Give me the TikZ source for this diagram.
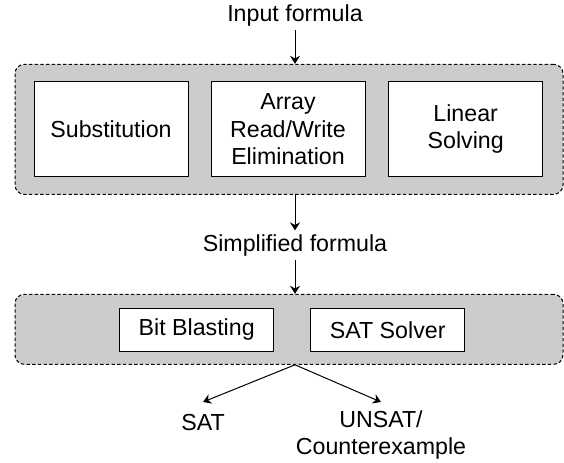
\documentclass[tikz,border=0pt]{standalone}
\usepackage{fontspec}
\setmainfont{Liberation Sans}
\usetikzlibrary{positioning, arrows.meta}
\definecolor{panelgray}{RGB}{204,204,204}

\begin{document}
\begin{tikzpicture}[
  x=0.75pt, y=-0.75pt,
  line width=0.75pt,
  every node/.style={font=\fontsize{17.4}{20.4}\selectfont, align=center},
  stage/.style={draw, dash pattern=on 2.5pt off 1.75pt, rounded corners=7pt, fill=panelgray, minimum width=411pt, inner sep=0pt},
  pass/.style={draw, fill=white, minimum width=115.5pt, inner sep=0pt},
  label/.style={inner sep=2.5pt},
  ->, >={Stealth[length=6pt, width=7.5pt, inset=2pt]}
]
\useasboundingbox (0,0) rectangle (564,462);

% Preprocessing stage
\node[stage, minimum height=97.5pt] (preproc) at (289,129.3) {};
\node[pass, minimum height=71.25pt] (subst) at (111,129.3) {Substitution};
\node[pass, minimum height=71.25pt, right=16.5pt of subst] (arrayelim) {Array\\Read/Write\\Elimination};
\node[pass, minimum height=71.25pt, right=17pt of arrayelim] (linear) {Linear\\Solving};

% Decision stage
\node[stage, minimum height=52.5pt] (decide) at (289,329.3) {};
\node[pass, minimum height=32pt] (bitblast) at (196.7,329.7) {Bit Blasting};
\node[pass, minimum height=32pt, right=27pt of bitblast] (satsolver) {SAT Solver};

% Formulas and results
\node[label, anchor=base] (input) at (295,21.7) {Input formula};
\node[label, anchor=base] (simplified) at (295,251) {Simplified formula};
\node[label, inner ysep=8.5pt, anchor=base] (sat) at (203,430) {SAT};
\node[label, inner ysep=6pt, anchor=north] (unsat) at (381,402) {UNSAT/\\Counterexample};
\coordinate (fork) at (decide.south -| simplified);

% Connections
\draw (input.south) -- (input.south |- preproc.north);
\draw (preproc.south -| simplified) -- (simplified.north);
\draw (simplified.south) -- (simplified.south |- decide.north);
\draw (fork) -- (sat.north);
\draw (fork) -- (unsat.north);

\end{tikzpicture}
\end{document}
